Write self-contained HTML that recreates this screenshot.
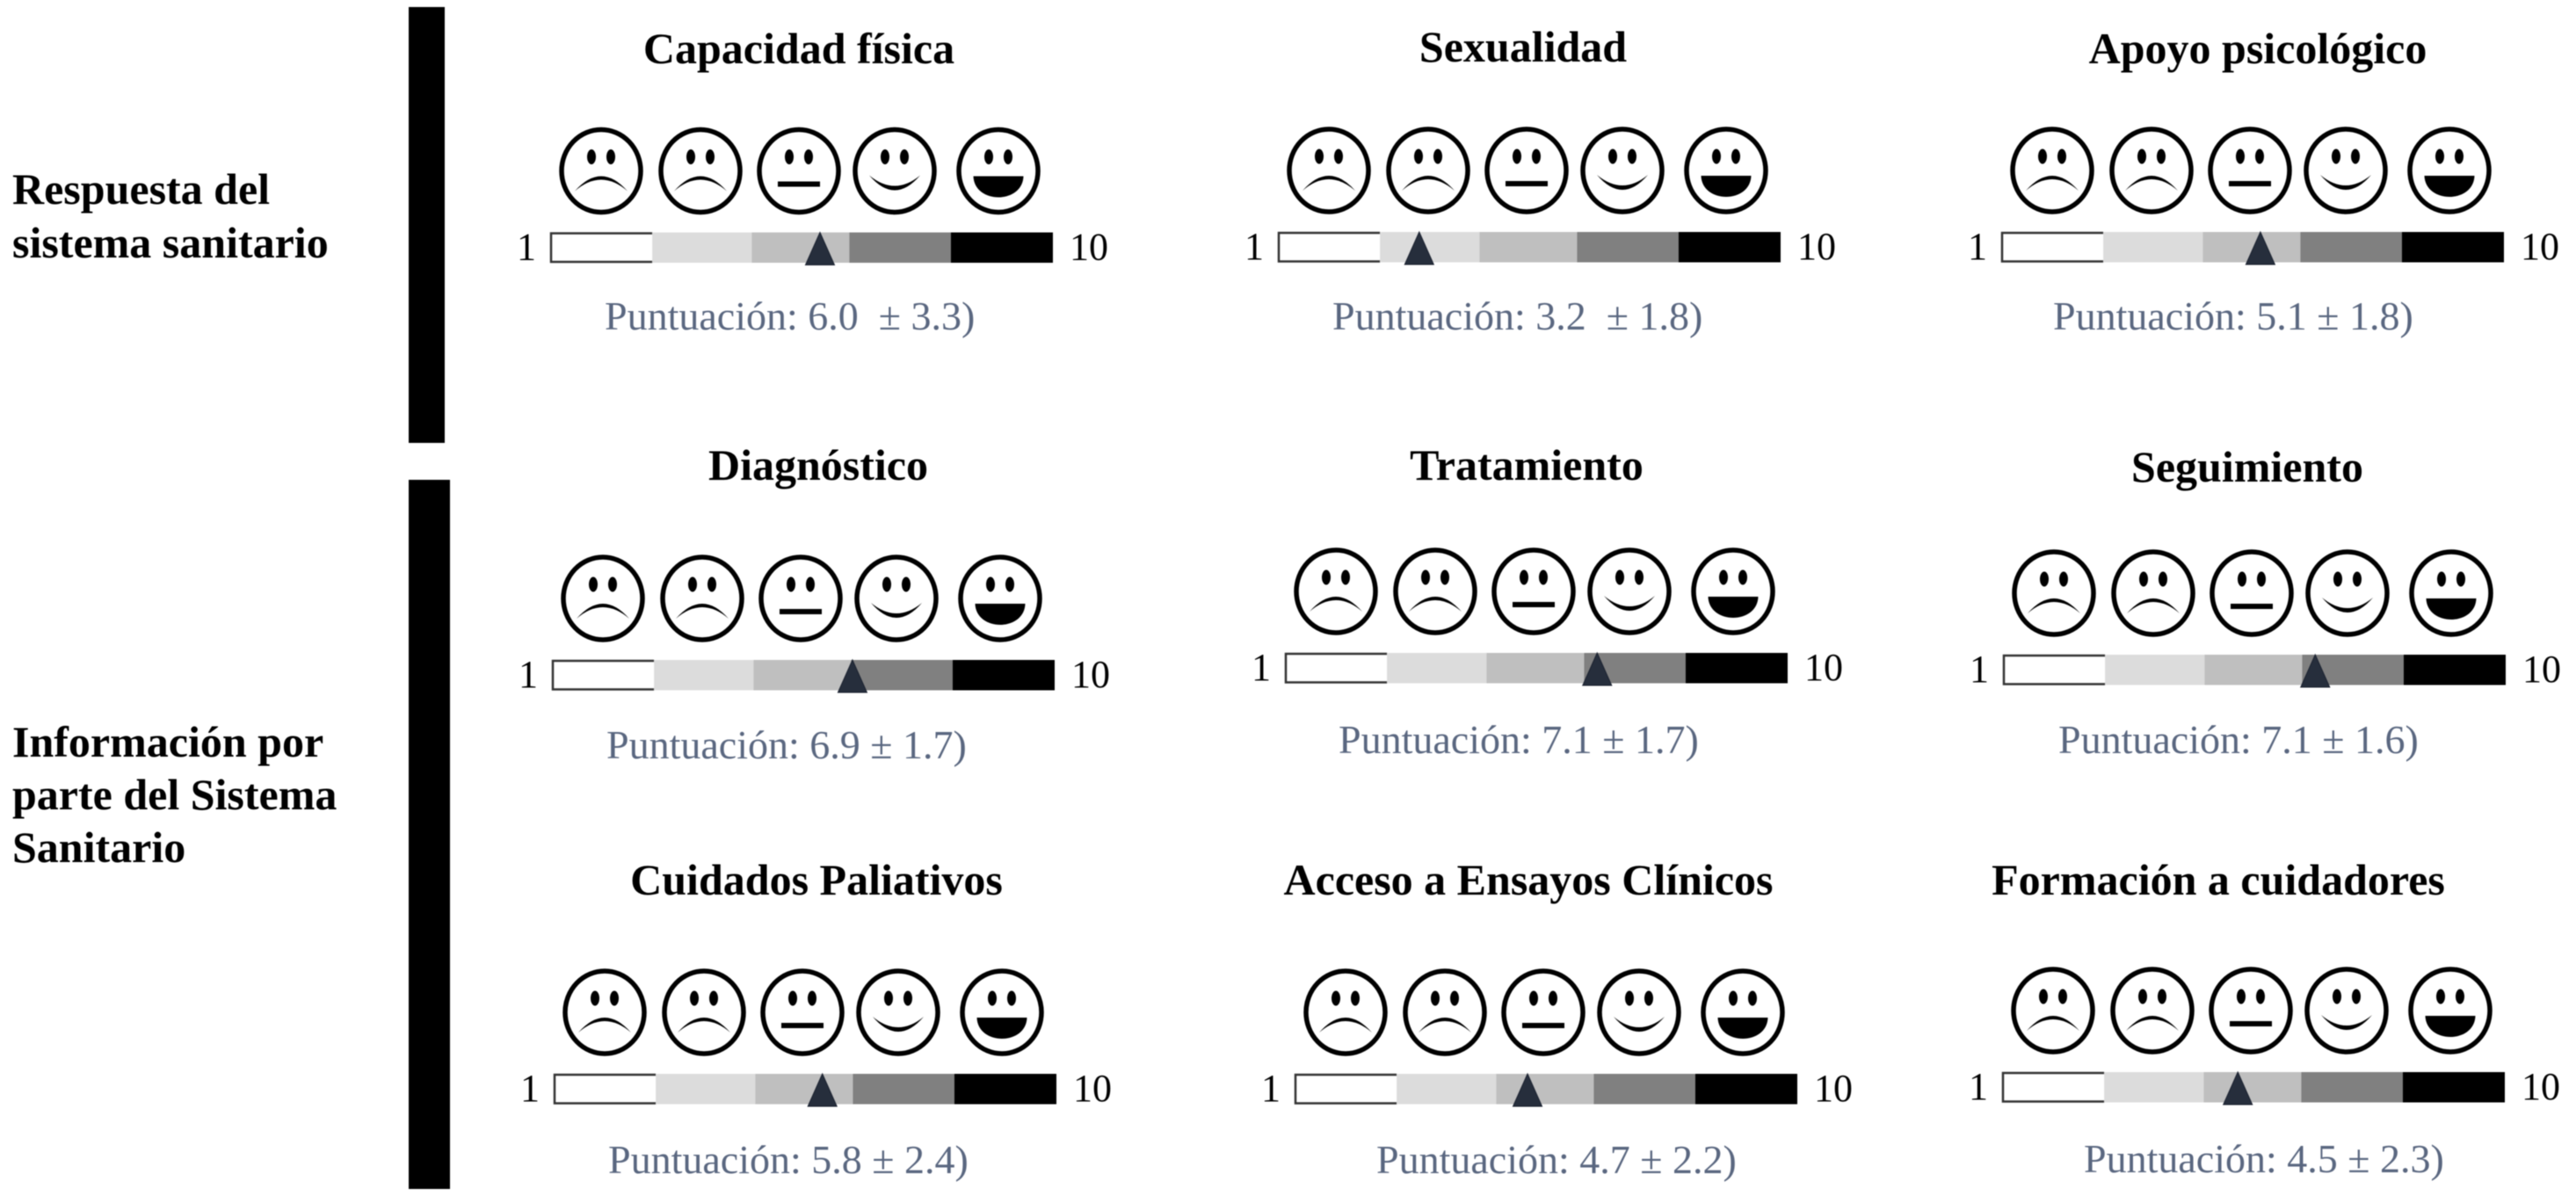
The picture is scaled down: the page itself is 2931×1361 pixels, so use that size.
<!DOCTYPE html>
<html lang="es">
<head>
<meta charset="utf-8">
<title>Puntuaciones por dimensión</title>
<style>
html,body{margin:0;padding:0;background:#fff;width:2931px;height:1361px;overflow:hidden}
svg{display:block;filter:blur(0.6px)}
text{font-family:"Liberation Serif","Times New Roman",serif}
.title{font-weight:700;font-size:50px;fill:#000;text-anchor:middle}
.side{font-weight:700;font-size:50px;fill:#000}
.score{font-size:46px;fill:#5a6780}
.num{font-size:44px;fill:#000}
</style>
</head>
<body>
<svg id="chart" xmlns="http://www.w3.org/2000/svg" width="2931" height="1361" viewBox="0 0 2931 1361">
  <rect x="0" y="0" width="2931" height="1361" fill="#fff"/>
  <rect x="465" y="8" width="41" height="496" fill="#000"/>
  <rect x="465" y="546" width="47" height="807" fill="#000"/>
  <g>
    <text class="side" x="14" y="232">Respuesta del</text>
    <text class="side" x="14" y="293">sistema sanitario</text>
  </g>
  <g>
    <text class="side" x="14" y="861">Información por</text>
    <text class="side" x="14" y="921">parte del Sistema</text>
    <text class="side" x="14" y="981">Sanitario</text>
  </g>
</svg>
<script>
// Data
const panelTitles = ["Capacidad física","Sexualidad","Apoyo psicológico","Diagnóstico","Tratamiento","Seguimiento","Cuidados Paliativos","Acceso a Ensayos Clínicos","Formación a cuidadores"];
const scores = [6.0,3.2,5.1,6.9,7.1,7.1,5.8,4.7,4.5];
const spreads = [3.3,1.8,1.8,1.7,1.7,1.6,2.4,2.2,2.3];
// The drawn triangle does not sit exactly at the printed mean; difference in scale units
const markerOffsets = [-0.17,0.33,0.54,-0.52,-0.51,-0.51,0.01,0.47,0.72];
const scaleTicks = [1,10];
// Scale band shades, with the share of the bar each one covers
const bandColors = ["#ffffff","#dcdcdc","#bfbfbf","#808080","#000000"];
const bandShares = [0.203,0.198,0.194,0.202,0.203];
const faceKinds = ["sad","sad","neutral","happy","joy"];

// Page layout of each panel (not data)
const barLeft = [626,1454,2277,628,1462,2279,630,1473,2278];
const barTop = [264.5,264,264,751,743,745,1222,1222,1220];
const titleCenter = [909,1733,2569,931,1737,2557,929,1739,2524];
const titleBase = [72,70,72,546,546,548,1018,1018,1018];
const scoreLeft = [688,1516,2336,690,1523,2342,692,1566,2371];
const scoreBase = [375,375,375,863,857,857,1335,1335,1334];
const doubleGap = [true,true,false,false,false,false,false,false,false];
const faceOffsets = [58,171,283,392,510];

const BAR_W = 572, BAR_H = 34.5, FACE_DY = -70;
const NS = "http://www.w3.org/2000/svg";
const svg = document.getElementById("chart");

function make(tag, attrs, parent){
  const el = document.createElementNS(NS, tag);
  for (const k in attrs) el.setAttribute(k, attrs[k]);
  parent.appendChild(el);
  return el;
}
function slug(s){
  return s.normalize("NFD").replace(/[\u0300-\u036f]/g,"").toLowerCase().replace(/\s+/g,"-");
}
function xScale(v, i){
  return barLeft[i] + (v - scaleTicks[0]) / (scaleTicks[1] - scaleTicks[0]) * BAR_W;
}
function drawMouth(kind, g){
  if (kind === "sad") {
    return make("path",{d:"M-30 23Q0 -11 30 23Q0 -3 -30 23Z",fill:"#000"},g);
  }
  if (kind === "neutral") {
    return make("rect",{x:-24,y:12,width:48,height:6,fill:"#000"},g);
  }
  if (kind === "happy") {
    return make("path",{d:"M-29 5Q0 39 29 5Q0 29 -29 5Z",fill:"#000"},g);
  }
  return make("path",{d:"M-28.5 6H28.5C28 22 14 30 0 30C-14 30 -28 22 -28.5 6Z",fill:"#000"},g);
}

panelTitles.forEach((title, i) => {
  const base = slug(title);
  const panel = make("g",{},svg);
  
  

  const t = make("text",{class:"title",x:titleCenter[i],y:titleBase[i]},panel);
  t.textContent = title;
  
  

  faceKinds.forEach((kind, f) => {
    const g = make("g",{transform:"translate(" + (barLeft[i] + faceOffsets[f]) + " " + (barTop[i] + FACE_DY) + ")"},panel);
    
    
    make("ellipse",{cx:0,cy:0,rx:45,ry:47,fill:"#fff",stroke:"#000","stroke-width":5.5},g);
    make("ellipse",{cx:-11,cy:-16,rx:5,ry:8.5,fill:"#000"},g);
    make("ellipse",{cx:11,cy:-16,rx:5,ry:8.5,fill:"#000"},g);
    drawMouth(kind, g);
  });

  let bx = barLeft[i];
  bandColors.forEach((c, b) => {
    const w = bandShares[b] * BAR_W;
    const r = make("rect",{x:bx,y:barTop[i],width:w,height:BAR_H,fill:c},panel);
    
    
    if (b === 0) {
      make("path",{d:"M" + (bx + w) + " " + (barTop[i] + 1) + "H" + (bx + 1) + "V" + (barTop[i] + BAR_H - 1) + "H" + (bx + w),fill:"none",stroke:"#333","stroke-width":2.5},panel);
    }
    bx += w;
  });

  const lo = make("text",{class:"num",x:barLeft[i] - 16,y:barTop[i] + 31,"text-anchor":"end"},panel);
  lo.textContent = String(scaleTicks[0]);
  
  
  const hi = make("text",{class:"num",x:barLeft[i] + BAR_W + 19,y:barTop[i] + 31},panel);
  hi.textContent = String(scaleTicks[1]);
  
  

  const mx = xScale(scores[i] + markerOffsets[i], i);
  const my = barTop[i];
  const m = make("path",{d:"M" + mx + " " + my + "L" + (mx + 16.5) + " " + (my + 37) + "H" + (mx - 16.5) + "Z",fill:"#262e3c",stroke:"#1b2230","stroke-width":1},panel);
  
  

  const s = make("text",{class:"score",x:scoreLeft[i],y:scoreBase[i]},panel);
  s.textContent = "Puntuación: " + scores[i].toFixed(1) + (doubleGap[i] ? "\u00A0 " : " ") + "± " + spreads[i].toFixed(1) + ")";
  
  
});
</script>
</body>
</html>
